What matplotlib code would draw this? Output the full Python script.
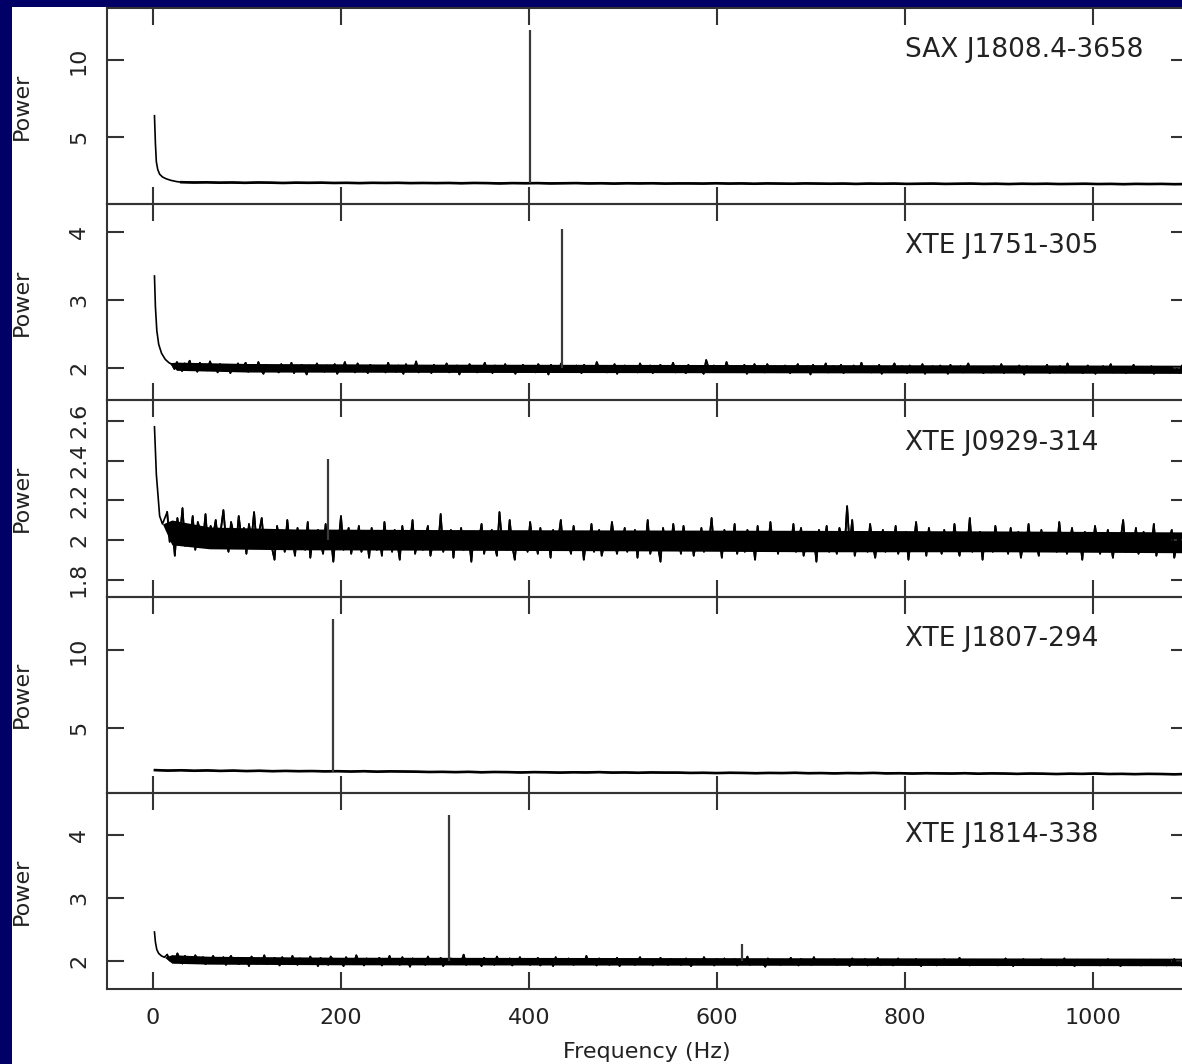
import numpy as np
import matplotlib
matplotlib.use("Agg")
import matplotlib.pyplot as plt
from matplotlib.patches import Rectangle

plt.rcParams['font.family'] = ['DejaVu Sans']

# power values below are in units of 0.01

# SAX J1808.4-3658
sax_low_freq = [1.5, 2.5, 3.5, 5, 7, 10, 14, 19, 25]
sax_low_power = [6.4, 4.6, 3.4, 2.9, 2.6, 2.42, 2.3, 2.2, 2.12]
sax_noise_start = 30
sax_noise = [208, 206, 207, 205, 206, 204, 206, 205, 203, 205, 204, 205, 203, 204, 202, 204, 203, 204, 202, 203,
             202, 203, 201, 203, 202, 200, 202, 201, 202, 200, 201, 202, 200, 201, 199, 201, 200, 201, 199, 200,
             200, 199, 201, 199, 200, 198, 200, 199, 198, 200, 199, 198, 199, 197, 199, 198, 199, 197, 198, 199,
             197, 198, 199, 197, 198, 196, 198, 197, 198, 196, 197, 198, 196, 197, 195, 197, 196, 197, 195, 196]
sax_spike_freq = [400.9]
sax_spike_base = [2.03]
sax_spike_top = [11.95]

# XTE J1751-305
j1751_low_freq = [1.5, 2.5, 4, 6, 9, 13, 17]
j1751_low_power = [3.35, 2.9, 2.55, 2.35, 2.22, 2.13, 2.08]
j1751_noise_start = 20
j1751_noise = [
    206, 199, 209, 201, 196, 207, 202, 211, 198, 204, 195, 208, 200, 205, 197, 210, 199, 203, 194, 206,
    201, 197, 205, 193, 203, 199, 207, 196, 202, 208, 195, 200, 204, 197, 209, 198, 192, 205, 200, 196,
    203, 198, 194, 206, 199, 202, 196, 208, 193, 201, 197, 205, 199, 191, 204, 200, 196, 207, 198, 202,
    195, 204, 199, 197, 206, 192, 201, 198, 209, 196, 200, 203, 194, 207, 199, 197, 202, 193, 205, 200,
    198, 196, 203, 200, 194, 208, 197, 201, 195, 204, 199, 192, 206, 198, 202, 196, 210, 194, 200, 203,
    197, 201, 193, 205, 199, 196, 202, 198, 207, 194, 200, 197, 204, 191, 203, 199, 196, 206, 198, 201,
    194, 202, 199, 208, 196, 200, 193, 204, 198, 201, 195, 206, 197, 199, 203, 192, 200, 198, 205, 196,
    203, 197, 200, 194, 206, 199, 196, 202, 191, 205, 198, 201, 197, 207, 195, 200, 203, 196, 199, 204,
    198, 193, 205, 200, 197, 202, 195, 209, 199, 196, 203, 194, 200, 198, 206, 192, 201, 197, 204, 199,
    196, 203, 199, 194, 207, 198, 201, 196, 204, 193, 200, 197, 205, 199, 195, 202, 198, 208, 194, 200,
    202, 197, 193, 205, 199, 201, 196, 203, 198, 192, 212, 200, 197, 204, 195, 199, 202, 196, 209, 198,
    200, 195, 203, 198, 196, 205, 192, 201, 199, 206, 196, 202, 198, 194, 206, 199, 197, 203, 195, 200,
    197, 204, 199, 193, 202, 198, 206, 195, 200, 197, 203, 191, 205, 199, 196, 201, 198, 207, 194, 200,
    203, 196, 199, 205, 193, 201, 198, 196, 204, 199, 195, 208, 197, 200, 202, 194, 199, 197, 205, 192,
    199, 202, 196, 200, 207, 195, 198, 203, 197, 193, 204, 199, 196, 201, 198, 206, 192, 200, 197, 203,
    195, 200, 204, 197, 199, 192, 205, 198, 201, 196, 203, 194, 199, 207, 197, 200, 195, 202, 198, 193,
    201, 197, 194, 203, 199, 196, 206, 193, 200, 198, 202, 195, 197, 204, 199, 191, 203, 198, 196, 200,
    197, 202, 195, 199, 205, 193, 198, 201, 196, 203, 199, 194, 207, 197, 200, 195, 198, 202, 193, 199,
    204, 196, 199, 192, 201, 198, 203, 195, 197, 206, 194, 199, 196, 202, 198, 193, 200, 197, 205, 195,
    198, 201, 194, 199, 196, 203, 192, 200, 197, 195, 202, 198, 194, 201, 196, 199, 193, 204, 197, 198]
j1751_band_freq = [17, 25, 100, 300, 600, 900, 1100]
j1751_band_low = [2.08, 1.97, 1.945, 1.94, 1.935, 1.93, 1.925]
j1751_band_high = [2.08, 2.09, 2.07, 2.06, 2.055, 2.05, 2.045]
j1751_spike_freq = [435.2]
j1751_spike_base = [2.0]
j1751_spike_top = [4.04]

# XTE J0929-314
j0929_low_freq = [1.5, 2.5, 3.5, 5, 7, 10]
j0929_low_power = [2.57, 2.45, 2.33, 2.24, 2.12, 2.08]
j0929_noise_start = 15
j0929_noise = [
    214, 199, 208, 192, 211, 202, 216, 197, 206, 201, 212, 195, 209, 204, 199, 213, 196, 207, 202, 210,
    198, 205, 215, 200, 194, 209, 203, 197, 212, 201, 206, 193, 208, 200, 214, 198, 204, 211, 196, 203,
    204, 196, 190, 207, 199, 203, 194, 210, 197, 201, 192, 206, 198, 204, 195, 209, 191, 202, 197, 205,
    199, 193, 208, 196, 202, 189, 204, 198, 212, 195, 200, 206, 193, 201, 197, 207, 194, 199, 203, 191,
    206, 198, 195, 203, 192, 209, 197, 201, 194, 205, 199, 190, 207, 196, 202, 198, 210, 193, 200, 204,
    195, 201, 207, 192, 199, 204, 196, 213, 194, 200, 197, 205, 191, 203, 198, 206, 195, 199, 202, 189,
    204, 197, 200, 208, 193, 201, 196, 205, 198, 192, 214, 199, 203, 195, 210, 197, 190, 204, 200, 196,
    202, 194, 209, 198, 201, 193, 206, 196, 199, 203, 191, 205, 197, 200, 210, 195, 202, 198, 193, 207,
    199, 196, 204, 190, 201, 197, 208, 194, 200, 205, 192, 198, 203, 196, 209, 199, 193, 202, 197, 206,
    194, 201, 198, 205, 191, 203, 199, 196, 210, 193, 200, 204, 197, 189, 206, 198, 202, 195, 208, 197,
    201, 193, 207, 199, 196, 204, 192, 200, 197, 206, 194, 202, 199, 211, 195, 198, 203, 191, 205, 197,
    200, 196, 208, 193, 202, 198, 194, 205, 199, 201, 190, 207, 196, 203, 198, 195, 209, 197, 200, 193,
    204, 199, 195, 202, 197, 208, 194, 200, 206, 192, 198, 203, 196, 201, 189, 205, 199, 196, 207, 194,
    201, 198, 193, 206, 200, 195, 217, 197, 210, 192, 199, 204, 196, 200, 194, 208, 198, 191, 202, 197,
    205, 194, 199, 202, 196, 207, 193, 200, 198, 204, 190, 201, 197, 209, 195, 199, 203, 192, 206, 198,
    196, 202, 199, 193, 205, 198, 200, 195, 208, 197, 192, 203, 199, 196, 211, 194, 200, 198, 204, 190,
    203, 197, 201, 194, 207, 199, 195, 202, 198, 193, 206, 196, 200, 204, 191, 199, 197, 208, 195, 201,
    198, 192, 205, 197, 200, 196, 203, 199, 194, 209, 197, 201, 193, 198, 206, 195, 200, 202, 190, 204,
    197, 200, 195, 207, 198, 193, 202, 196, 205, 199, 191, 203, 197, 200, 210, 194, 198, 201, 196, 206,
    193, 199, 204, 197, 201, 195, 208, 192, 200, 197, 203, 196, 199, 205, 191, 198, 202, 196, 207, 198]
j0929_band_freq = [10, 20, 60, 150, 300, 500, 700, 900, 1100]
j0929_band_low = [2.08, 1.975, 1.955, 1.95, 1.948, 1.945, 1.94, 1.94, 1.935]
j0929_band_high = [2.08, 2.1, 2.065, 2.055, 2.052, 2.05, 2.048, 2.045, 2.04]
j0929_spike_freq = [185.8]
j0929_spike_base = [2.0]
j0929_spike_top = [2.41]

# XTE J1807-294
j1807_low_freq = []
j1807_low_power = []
j1807_noise_start = 2
j1807_noise = [229, 226, 228, 225, 227, 224, 226, 223, 225, 222, 224, 222, 223, 221, 222, 220, 222, 219, 221, 220,
               219, 217, 218, 216, 218, 215, 217, 216, 214, 216, 215, 213, 215, 214, 216, 213, 214, 212, 214, 213,
               213, 211, 212, 210, 212, 211, 209, 211, 210, 212, 209, 210, 208, 210, 209, 211, 208, 209, 207, 209,
               208, 207, 209, 206, 208, 207, 205, 207, 206, 204, 206, 205, 207, 204, 205, 203, 205, 204, 202, 204]
j1807_spike_freq = [190.9]
j1807_spike_base = [2.18]
j1807_spike_top = [12.05]

# XTE J1814-338
j1814_low_freq = [1.5, 2.5, 4, 6, 9, 12]
j1814_low_power = [2.46, 2.3, 2.18, 2.12, 2.08, 2.06]
j1814_noise_start = 15
j1814_noise = [
    210, 201, 207, 198, 212, 203, 196, 208, 200, 205, 197, 209, 202, 199, 206, 195, 204, 201, 208, 197,
    203, 199, 206, 194, 202, 208, 197, 201, 195, 205, 199, 203, 192, 207, 200, 196, 204, 198, 209, 195,
    201, 197, 205, 199, 193, 206, 200, 203, 196, 208, 198, 194, 204, 199, 201, 195, 207, 197, 202, 192,
    205, 198, 200, 194, 207, 201, 196, 203, 199, 192, 206, 198, 202, 195, 209, 197, 200, 193, 204, 199,
    196, 203, 198, 205, 193, 200, 197, 208, 195, 201, 199, 194, 206, 197, 202, 191, 204, 199, 196, 203,
    200, 194, 207, 198, 202, 196, 199, 205, 192, 201, 197, 204, 199, 195, 203, 198, 210, 194, 200, 197,
    203, 196, 199, 192, 205, 200, 197, 202, 194, 207, 198, 201, 195, 199, 204, 193, 200, 197, 206, 195,
    199, 202, 194, 201, 197, 205, 193, 199, 196, 203, 200, 192, 206, 198, 201, 195, 197, 204, 199, 194,
    202, 197, 200, 195, 208, 196, 201, 199, 193, 204, 198, 196, 202, 194, 200, 197, 205, 192, 199, 201,
    196, 203, 198, 194, 200, 206, 195, 199, 197, 202, 193, 201, 198, 205, 196, 199, 194, 203, 200, 197,
    201, 194, 199, 204, 197, 192, 202, 198, 200, 195, 206, 199, 196, 201, 193, 203, 198, 197, 204, 195,
    199, 197, 203, 193, 201, 198, 196, 207, 194, 200, 199, 195, 202, 197, 191, 204, 199, 196, 201, 198,
    194, 202, 197, 200, 205, 195, 199, 193, 203, 198, 196, 201, 194, 206, 197, 199, 202, 195, 198, 200,
    197, 203, 194, 199, 196, 201, 198, 192, 204, 197, 200, 195, 199, 203, 193, 198, 201, 196, 205, 194,
    200, 196, 202, 197, 193, 199, 204, 195, 198, 201, 194, 200, 197, 203, 196, 192, 201, 198, 195, 202,
    198, 193, 200, 196, 203, 197, 199, 194, 201, 198, 205, 195, 197, 200, 193, 199, 202, 196, 198, 194,
    201, 197, 195, 202, 198, 193, 200, 196, 204, 197, 199, 192, 201, 198, 196, 203, 194, 199, 197, 200,
    195, 199, 203, 196, 198, 194, 201, 197, 193, 200, 198, 204, 195, 199, 197, 192, 202, 196, 199, 197,
    198, 202, 195, 197, 200, 193, 199, 196, 203, 194, 198, 201, 196, 192, 200, 197, 195, 202, 198, 194,
    197, 193, 200, 196, 199, 202, 194, 198, 195, 201, 197, 193, 199, 196, 203, 195, 198, 192, 200, 196]
j1814_band_freq = [12, 20, 60, 200, 500, 800, 1100]
j1814_band_low = [2.06, 1.965, 1.95, 1.94, 1.935, 1.93, 1.925]
j1814_band_high = [2.06, 2.1, 2.075, 2.06, 2.055, 2.05, 2.045]
j1814_spike_freq = [314.5, 627.0]
j1814_spike_base = [2.0, 2.0]
j1814_spike_top = [4.32, 2.27]

noise_end = 1100

panels = [
    dict(name="SAX J1808.4-3658", low_f=sax_low_freq, low_p=sax_low_power,
         start=sax_noise_start, noise=sax_noise, band=None,
         sf=sax_spike_freq, sb=sax_spike_base, st=sax_spike_top,
         ylim=(0.65, 13.4), yticks=[5, 10], lw=1.9),
    dict(name="XTE J1751-305", low_f=j1751_low_freq, low_p=j1751_low_power,
         start=j1751_noise_start, noise=j1751_noise,
         band=(j1751_band_freq, j1751_band_low, j1751_band_high),
         sf=j1751_spike_freq, sb=j1751_spike_base, st=j1751_spike_top,
         ylim=(1.53, 4.4), yticks=[2, 3, 4], lw=1.3),
    dict(name="XTE J0929-314", low_f=j0929_low_freq, low_p=j0929_low_power,
         start=j0929_noise_start, noise=j0929_noise,
         band=(j0929_band_freq, j0929_band_low, j0929_band_high),
         sf=j0929_spike_freq, sb=j0929_spike_base, st=j0929_spike_top,
         ylim=(1.714, 2.703), yticks=[1.8, 2, 2.2, 2.4, 2.6], lw=1.3),
    dict(name="XTE J1807-294", low_f=j1807_low_freq, low_p=j1807_low_power,
         start=j1807_noise_start, noise=j1807_noise, band=None,
         sf=j1807_spike_freq, sb=j1807_spike_base, st=j1807_spike_top,
         ylim=(0.83, 13.46), yticks=[5, 10], lw=1.9),
    dict(name="XTE J1814-338", low_f=j1814_low_freq, low_p=j1814_low_power,
         start=j1814_noise_start, noise=j1814_noise,
         band=(j1814_band_freq, j1814_band_low, j1814_band_high),
         sf=j1814_spike_freq, sb=j1814_spike_base, st=j1814_spike_top,
         ylim=(1.556, 4.667), yticks=[2, 3, 4], lw=1.3),
]

W, H = 1182, 1064
fig = plt.figure(figsize=(W / 100, H / 100), dpi=100, facecolor="#000066")
fig.patches.append(Rectangle((12 / W, 0), 1, 1 - 7 / H, transform=fig.transFigure,
                             facecolor="white", edgecolor="none", zorder=-10))

ax_left = 107 / W
ax_width = 1081 / W
panel_top = 8
panel_h = 196.2
axis_col = "#333333"
text_col = "#222222"

for i, p in enumerate(panels):
    top = panel_top + i * panel_h
    ax = fig.add_axes([ax_left, 1 - (top + panel_h) / H, ax_width, panel_h / H])
    ax.set_facecolor("none")

    noise_freq = np.linspace(p["start"], noise_end, len(p["noise"]))
    noise_power = np.array(p["noise"]) / 100.0
    freq = np.concatenate([p["low_f"], noise_freq])
    power = np.concatenate([p["low_p"], noise_power])

    # dense core of the noise floor, then the trace itself
    if p["band"] is not None:
        bf, bl, bh = p["band"]
        ax.fill_between(bf, bl, bh, color="black", lw=0, zorder=1)
    ax.plot(freq, power, color="black", lw=1.2, zorder=2)
    ax.plot(noise_freq, noise_power, color="black", lw=p["lw"], zorder=2)
    ax.vlines(p["sf"], p["sb"], p["st"], color="#3a3a3a", lw=1.6, zorder=3)

    ax.text(800, 0.785, p["name"], transform=ax.get_xaxis_transform(), fontsize=19,
            color=text_col, ha="left", va="center")

    ax.set_xlim(-49, 1101)
    ax.set_ylim(*p["ylim"])
    ax.set_xticks([0, 200, 400, 600, 800, 1000])
    ax.set_yticks(p["yticks"])
    ax.set_yticklabels(["%g" % v for v in p["yticks"]], rotation=90, va="center")
    ax.tick_params(direction="in", length=12, width=1.5, colors=axis_col,
                   labelcolor=text_col, labelsize=16, top=True, right=True)
    ax.tick_params(axis="y", pad=13)
    ax.tick_params(axis="x", pad=14)
    if i < len(panels) - 1:
        ax.tick_params(labelbottom=False)
    for s in ax.spines.values():
        s.set_color(axis_col)
        s.set_linewidth(1.5)

    fig.text(22 / W, 1 - (top + panel_h / 2) / H, "Power", rotation=90,
             ha="center", va="center", fontsize=16, color=text_col)

fig.text(647 / W, 1 - 1052 / H, "Frequency (Hz)", ha="center", va="center",
         fontsize=16, color=text_col)

fig.savefig("out.png", dpi=100, facecolor=fig.get_facecolor())
